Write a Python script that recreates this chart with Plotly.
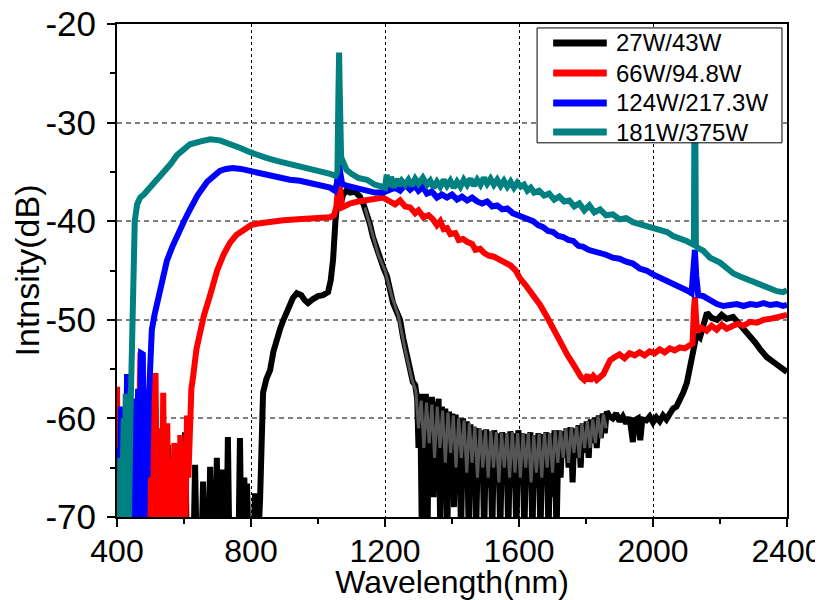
import plotly.graph_objects as go

# ---------------- data ----------------
series_names = ["27W/43W", "66W/94.8W", "124W/217.3W", "181W/375W"]
series_colors = ["#000000", "#ff0000", "#0000ff", "#008080"]

x_ticks = [400, 800, 1200, 1600, 2000, 2400]
x_tick_labels = ["400", "800", "1200", "1600", "2000", "2400"]
x_minor = [600, 1000, 1400, 1800, 2200]
y_ticks = [-70, -60, -50, -40, -30, -20]
y_tick_labels = ["-70", "-60", "-50", "-40", "-30", "-20"]
y_minor = [-65, -55, -45, -35, -25]

# 27W/43W (black)
black_x = [400, 505, 512, 519, 524, 548, 552, 556, 598, 603, 608, 629, 633, 637,
           653, 657, 661, 674, 678, 682, 694, 698, 702, 709, 713, 717, 727, 731, 735,
           763, 767, 771, 776, 780, 784, 788, 792, 808, 812, 816, 822, 827, 832, 836,
           846, 857, 867, 878, 888, 897, 910, 925, 937, 950, 960, 970, 985, 1000,
           1015, 1030, 1038, 1045, 1052, 1058, 1063, 1068, 1075, 1085, 1096, 1110,
           1125, 1136, 1146, 1155, 1164, 1175, 1185, 1196, 1206, 1215, 1224, 1235,
           1245, 1254, 1265, 1275, 1283,
           1290, 1296, 1300, 1305, 1310, 1314, 1318, 1322, 1327, 1331, 1336, 1340,
           1345, 1350, 1355, 1360, 1365, 1370, 1375, 1380, 1386, 1391, 1396, 1401,
           1406, 1411, 1416, 1421, 1427, 1433, 1438, 1444, 1450, 1455, 1460, 1466,
           1472, 1478, 1484, 1490, 1496, 1502, 1508, 1514, 1520, 1526, 1532, 1538,
           1544, 1550, 1556, 1562, 1568, 1574, 1580, 1586, 1592, 1598, 1604, 1610,
           1616, 1622, 1628, 1634, 1640, 1646, 1652, 1658, 1664, 1670, 1676, 1682,
           1688, 1694, 1700, 1706, 1712, 1718, 1724, 1730, 1736, 1742, 1748, 1754,
           1760, 1766, 1772, 1778, 1784, 1790, 1796, 1802, 1808, 1814, 1820, 1826,
           1832, 1838, 1844, 1850, 1856, 1862,
           1870, 1880, 1890, 1900, 1910, 1920, 1930, 1940, 1945, 1955, 1962, 1968,
           1980, 1990, 2000, 2010, 2020, 2030, 2040, 2050, 2060, 2070, 2080, 2090,
           2101, 2110, 2120, 2130, 2140, 2150, 2161, 2175, 2191, 2205, 2220, 2239,
           2255, 2270, 2290, 2305, 2320, 2340, 2360, 2375, 2388, 2400]
black_y = [-72, -72, -56.3, -72, -72, -72, -62.7, -72, -72, -61.4, -72, -72, -64.7, -72,
           -72, -66.4, -72, -72, -64.9, -72, -72, -64.0, -72, -72, -65.2, -72, -72, -61.9, -72,
           -72, -62.0, -72, -72, -66.0, -72, -66.6, -72, -72, -67.6, -72, -72, -68.3, -62.0, -57.4,
           -56.0, -55.1, -53.2, -51.7, -50.8, -50.0, -48.9, -47.8, -47.3, -47.5, -48.0, -48.3, -47.9, -47.6,
           -47.5, -47.2, -46.0, -43.9, -40.0, -37.5, -36.3, -38.2, -37.3, -36.9, -37.1, -37.0,
           -37.5, -38.3, -39.2, -40.3, -41.6, -42.8, -43.9, -44.8, -45.6, -46.9, -48.3, -49.2,
           -50.0, -51.8, -53.5, -55.2, -56.3,
           -56.6, -58.0, -63.0, -57.5, -72, -58.0, -66.0, -57.5, -72, -58.5, -64.0, -57.8,
           -68.0, -58.3, -63.0, -58.0, -72, -58.8, -65.0, -59.0, -72, -59.3, -64.0, -59.5,
           -69.0, -59.6, -66.0, -60.0, -72, -60.0, -65.0, -60.3, -72, -60.6, -66.0, -60.9,
           -72, -61.0, -64.0, -61.2, -72, -61.1, -67.0, -61.3, -72, -61.2, -66.0, -61.5,
           -72, -61.4, -65.0, -61.6, -72, -61.3, -67.0, -61.5, -72, -61.2, -65.0, -61.5,
           -72, -61.6, -66.0, -61.4, -72, -61.7, -67.0, -61.5, -72, -61.6, -66.0, -61.4,
           -72, -61.5, -68.0, -61.2, -72, -61.2, -66.0, -61.3, -64.0, -61.0, -65.0, -60.9,
           -66.5, -61.0, -64.0, -60.7, -65.0, -60.5, -63.5, -60.3, -64.0, -60.1, -62.5, -59.9,
           -63.0, -59.7, -62.0, -59.5, -61.5, -59.3,
           -59.8, -60.0, -59.5, -60.3, -59.8, -60.5, -59.9, -62.4, -60.2, -60.0, -62.2, -60.1,
           -60.2, -59.8, -60.4, -59.9, -60.3, -59.7, -60.1, -59.5, -59.0, -58.8, -58.2, -57.4,
           -56.4, -54.8, -52.8, -51.5, -51.8, -50.4, -49.3, -49.8, -50.0, -49.5, -49.9, -49.7,
           -50.3, -51.0, -51.7, -52.3, -53.0, -53.8, -54.3, -54.7, -55.1, -55.3]

# grey core of the dense noisy part of the black spectrum
black_band_x = [1140, 1160, 1180, 1200, 1220, 1240, 1260, 1280, 1292, 1300, 1308, 1316,
                1324, 1332, 1340, 1348, 1356, 1364, 1372, 1380, 1388, 1396, 1404, 1412,
                1420, 1428, 1436, 1444, 1452, 1460, 1468, 1476, 1484, 1492, 1500, 1508,
                1516, 1524, 1532, 1540, 1548, 1556, 1564, 1572, 1580, 1588, 1596, 1604,
                1612, 1620, 1628, 1636, 1644, 1652, 1660, 1668, 1676, 1684, 1692, 1700,
                1708, 1716, 1724, 1732, 1740, 1748, 1756, 1764, 1772, 1780, 1788, 1796,
                1804, 1812, 1820, 1828, 1836, 1844, 1852, 1860]
black_band_y = [-38.6, -40.9, -43.4, -45.0, -47.6, -49.6, -53.0, -56.0, -57.2, -61.0, -58.2, -63.0,
                -58.4, -62.5, -58.6, -64.0, -58.8, -63.0, -59.2, -64.5, -59.4, -63.5, -59.7, -65.0,
                -60.0, -64.0, -60.2, -65.5, -60.5, -64.5, -60.8, -66.0, -61.0, -65.0, -61.2, -66.0,
                -61.3, -65.0, -61.4, -66.5, -61.5, -65.0, -61.5, -66.0, -61.4, -65.5, -61.5, -66.0,
                -61.6, -65.0, -61.5, -66.5, -61.7, -65.5, -61.6, -66.0, -61.5, -65.0, -61.5, -65.5,
                -61.3, -64.5, -61.2, -64.0, -61.0, -64.5, -60.9, -63.5, -60.8, -64.0, -60.5, -63.0,
                -60.3, -63.0, -60.1, -62.5, -59.8, -62.0, -59.6, -61.0]

# 66W/94.8W (red)
red_x = [400, 404, 412, 416, 425, 429, 440, 444, 455, 459, 470, 475, 479, 490, 494,
         505, 509, 515, 519, 530, 534, 538, 542, 550, 554, 562, 566, 571, 575, 581,
         585, 589, 593, 600, 604, 609, 613, 617, 622, 627, 637, 648, 660, 678, 699,
         718, 737, 756, 776, 800, 827, 860, 897, 940, 976, 1010, 1036, 1048, 1055,
         1060, 1063, 1067, 1072, 1085, 1096, 1120, 1150, 1170, 1194,
         1215, 1230, 1245, 1260, 1275, 1290, 1300, 1315, 1330, 1343, 1355, 1365,
         1375, 1385, 1395, 1410, 1420, 1433, 1445, 1460, 1470, 1484, 1495, 1510,
         1525, 1543, 1560, 1575, 1590, 1603, 1620, 1640, 1663, 1685, 1700, 1722,
         1745, 1760, 1773, 1785, 1795, 1805, 1812, 1822, 1832, 1842, 1852, 1862,
         1872, 1885, 1900, 1915, 1930, 1945, 1960, 1975, 1990, 2005, 2020, 2035,
         2050, 2065, 2080, 2095, 2110, 2118, 2122, 2125, 2128, 2132, 2145, 2160,
         2175, 2190, 2205, 2220, 2239, 2255, 2270, 2290, 2310, 2330, 2350, 2370,
         2388, 2400]
red_y = [-56.8, -72, -63.0, -72, -60.0, -72, -58.0, -72, -60.0, -72, -53.5, -53.4, -72, -57.0, -72,
         -56.0, -72, -55.4, -72, -61.0, -72, -57.4, -72, -60.5, -72, -64.0, -72, -62.5, -72, -64.5,
         -72, -61.7, -72, -62.5, -72, -59.7, -66.0, -60.0, -57.0, -55.8, -53.0, -51.3, -49.5, -47.5, -45.0,
         -43.4, -42.2, -41.4, -40.9, -40.4, -40.2, -40.0, -39.9, -39.8, -39.7, -39.6, -39.6, -39.4, -38.5,
         -36.5, -36.1, -37.0, -38.6, -38.4, -38.2, -38.0, -37.8, -37.7, -37.6,
         -38.0, -38.3, -37.9, -38.5, -38.6, -39.2, -38.9, -39.6, -39.4, -39.8, -40.4, -40.0,
         -40.8, -40.7, -41.3, -41.2, -41.9, -41.8, -42.1, -42.3, -42.9, -42.8, -43.2, -43.5,
         -43.6, -43.9, -44.2, -44.5, -45.0, -45.8, -46.5, -47.4, -48.5, -49.8, -50.8, -52.0,
         -53.6, -54.4, -55.3, -55.8, -56.1, -55.6, -56.2, -55.7, -56.1, -55.8, -55.5, -54.8,
         -54.1, -53.8, -53.5, -53.9, -53.4, -53.6, -53.3, -53.6, -53.2, -53.4, -53.0, -53.3,
         -52.9, -53.1, -52.8, -52.9, -52.6, -52.4, -49.0, -47.7, -49.5, -51.2, -50.8, -51.1,
         -50.6, -51.0, -50.5, -50.9, -50.6, -50.4, -50.6, -50.2, -50.3, -50.0, -49.9, -49.8,
         -49.6, -49.5]

# 124W/217.3W (blue)
blue_x = [400, 404, 408, 412, 416, 420, 424, 430, 434, 440, 444, 452, 456, 463, 467,
          472, 477, 481, 487, 491, 495, 499, 504, 512, 519, 530, 549, 565, 579, 600,
          618, 640, 669, 690, 707, 725, 746, 770, 797, 827, 857, 886, 916, 946, 976,
          1006, 1036, 1050, 1056, 1060, 1063, 1067, 1072, 1085, 1096, 1120, 1146,
          1170, 1194, 1215, 1230, 1245, 1260, 1275, 1290, 1300, 1313, 1325, 1340,
          1355, 1370, 1385, 1400, 1415, 1430, 1445, 1460, 1475, 1490, 1505, 1520,
          1535, 1550, 1565, 1582, 1597, 1612, 1627, 1642, 1657, 1672, 1687, 1702,
          1717, 1732, 1747, 1762, 1777, 1792, 1807, 1822, 1842, 1860, 1880, 1900,
          1920, 1940, 1960, 1980, 2000, 2020, 2042, 2060, 2080, 2100, 2115, 2121,
          2125, 2129, 2135, 2150, 2170, 2191, 2210, 2230, 2250, 2270, 2290, 2310,
          2330, 2350, 2370, 2388, 2400]
blue_y = [-72, -63.0, -72, -58.8, -72, -62.0, -72, -55.5, -72, -60.0, -72, -58.0, -72, -57.0, -72,
          -53.4, -53.5, -72, -60.0, -66.0, -58.0, -54.0, -51.0, -49.5, -48.5, -46.3, -44.0, -42.6, -41.4, -40.0,
          -38.8, -37.4, -36.0, -35.3, -34.9, -34.7, -34.6, -34.7, -34.9, -35.2, -35.4, -35.6, -35.8, -35.9, -36.1,
          -36.3, -36.6, -36.9, -36.2, -35.0, -34.3, -35.2, -36.2, -36.4, -36.5, -36.8, -36.9,
          -37.1, -37.1, -36.9, -36.6, -36.9, -36.3, -36.8, -36.4, -36.9, -36.5, -37.2, -37.0,
          -37.6, -37.3, -37.6, -37.3, -37.8, -37.5, -37.9, -37.6, -38.0, -38.2, -38.0, -38.5,
          -38.4, -38.8, -38.7, -39.2, -39.4, -39.6, -39.8, -40.0, -40.4, -40.6, -41.0, -41.1,
          -41.5, -41.6, -41.9, -42.0, -42.5, -42.6, -42.9, -43.0, -43.2, -43.4, -43.7, -43.8,
          -44.1, -44.3, -44.8, -45.0, -45.4, -45.7, -46.0, -46.4, -46.7, -47.0, -47.3, -45.0,
          -42.9, -45.5, -47.5, -47.6, -48.0, -48.4, -48.6, -48.5, -48.4, -48.6, -48.4, -48.5,
          -48.3, -48.5, -48.4, -48.6, -48.5]

# 181W/375W (teal)
teal_x = [400, 403, 406, 410, 414, 420, 423, 426, 430, 433, 436, 440, 444, 448, 453,
          460, 469, 480, 498, 520, 537, 560, 579, 600, 618, 650, 678, 707, 746, 770,
          797, 820, 848, 880, 907, 940, 976, 1010, 1036, 1052, 1058, 1061, 1063, 1065,
          1069, 1075, 1085, 1100, 1120, 1146, 1170, 1191,
          1200, 1205, 1212, 1218, 1226, 1234, 1242, 1250, 1260, 1270, 1280, 1290,
          1300, 1313, 1325, 1335, 1345, 1355, 1365, 1375, 1385, 1395, 1405, 1415,
          1425, 1435, 1445, 1455, 1465, 1475, 1485, 1495, 1505, 1515, 1525, 1535,
          1545, 1555, 1565, 1575, 1585, 1595, 1605, 1615, 1625, 1635, 1645, 1660,
          1675, 1690, 1705, 1720, 1735, 1750, 1765, 1780, 1795, 1810, 1825, 1842,
          1860, 1880, 1900, 1920, 1940, 1960, 1980, 2000, 2020, 2042, 2060, 2080,
          2100, 2116, 2122, 2124, 2125, 2126, 2128, 2134, 2150, 2170, 2200, 2220,
          2240, 2260, 2290, 2310, 2330, 2350, 2370, 2388, 2400]
teal_y = [-72, -65.5, -72, -64.0, -72, -60.0, -72, -57.5, -72, -58.0, -70.0, -60.0, -52.0, -45.0, -40.0,
          -38.3, -37.6, -37.3, -36.6, -35.8, -35.2, -34.2, -33.3, -32.6, -32.2, -31.9, -31.7, -31.8, -32.2, -32.6,
          -33.0, -33.3, -33.6, -33.9, -34.1, -34.4, -34.6, -34.9, -35.2, -35.4, -35.0, -27.0, -22.9, -27.0,
          -33.5, -34.0, -34.8, -35.2, -35.6, -35.8, -36.3, -36.5,
          -36.6, -35.3, -36.5, -35.5, -36.6, -35.7, -36.4, -35.9, -36.3, -35.8, -36.4, -35.7,
          -36.2, -35.6, -36.3, -35.9, -36.6, -36.0, -36.5, -35.8, -36.4, -35.9, -36.6, -36.0,
          -36.5, -35.8, -36.3, -35.7, -36.4, -35.8, -36.3, -35.6, -36.2, -35.7, -36.3, -35.8,
          -36.4, -35.9, -36.5, -36.0, -36.6, -36.1, -36.5, -36.3, -36.9, -36.6, -37.1, -36.9,
          -37.4, -37.2, -37.8, -37.5, -38.0, -37.9, -38.5, -38.2, -38.9, -38.4, -39.1, -38.8,
          -39.4, -39.3, -39.8, -39.7, -40.1, -40.3, -40.5, -40.7, -40.9, -41.1, -41.5, -41.7,
          -42.0, -42.3, -42.4, -27.0, -26.2, -27.0, -42.5, -42.7, -43.0, -43.7, -44.2, -44.8,
          -45.3, -45.6, -46.0, -46.4, -46.6, -46.9, -47.1, -47.2, -47.0]

# ---------------- figure ----------------
FONT = "Liberation Sans, Arial, sans-serif"
LW = 6

fig = go.Figure()
fig.add_trace(go.Scatter(x=black_x, y=black_y, mode="lines", name=series_names[0],
                         line=dict(color=series_colors[0], width=LW)))
fig.add_trace(go.Scatter(x=black_band_x, y=black_band_y, mode="lines", name=series_names[0],
                         hoverinfo="skip", line=dict(color="#555555", width=3)))
fig.add_trace(go.Scatter(x=red_x, y=red_y, mode="lines", name=series_names[1],
                         line=dict(color=series_colors[1], width=LW)))
fig.add_trace(go.Scatter(x=blue_x, y=blue_y, mode="lines", name=series_names[2],
                         line=dict(color=series_colors[2], width=LW)))
fig.add_trace(go.Scatter(x=teal_x, y=teal_y, mode="lines", name=series_names[3],
                         line=dict(color=series_colors[3], width=LW)))

axis_common = dict(showline=True, linecolor="black", linewidth=2, mirror=True,
                   ticks="outside", ticklen=8, tickwidth=2, tickcolor="black",
                   zeroline=False, automargin=False, ticklabeloverflow="allow")

fig.update_xaxes(range=[400, 2400], tickmode="array", tickvals=x_ticks, ticktext=x_tick_labels,
                 showgrid=True, gridcolor="black", gridwidth=1, griddash="3px,3px",
                 minor=dict(tickmode="array", tickvals=x_minor, ticks="outside", ticklen=5,
                            tickwidth=2, tickcolor="black", showgrid=False),
                 ticklabelstandoff=-3,
                 tickfont=dict(family=FONT, size=32, color="black"),
                 title=dict(text="Wavelength(nm)", font=dict(family=FONT, size=32, color="black"),
                            standoff=0),
                 **axis_common)
fig.update_yaxes(range=[-70, -20], tickmode="array", tickvals=y_ticks, ticktext=y_tick_labels,
                 showgrid=True, gridcolor="#7f7f7f", gridwidth=1.5, griddash="5px,4px",
                 minor=dict(tickmode="array", tickvals=y_minor, ticks="outside", ticklen=5,
                            tickwidth=2, tickcolor="black", showgrid=False),
                 ticklabelstandoff=4,
                 tickfont=dict(family=FONT, size=35, color="black"),
                 title=dict(text="Intnsity(dB)", font=dict(family=FONT, size=34, color="black"),
                            standoff=1),
                 **axis_common)

# legend box drawn in paper coordinates (frame, line samples, labels)
leg_left, leg_right, leg_top, leg_bottom = 0.627, 0.9925, 0.992, 0.759
leg_rows = [0.9615, 0.9006, 0.8398, 0.7809]
shapes = [dict(type="rect", xref="paper", yref="paper", x0=leg_left, x1=leg_right,
               y0=leg_bottom, y1=leg_top, fillcolor="white",
               line=dict(color="black", width=1), layer="above")]
annotations = []
for name, color, row in zip(series_names, series_colors, leg_rows):
    shapes.append(dict(type="line", xref="paper", yref="paper", x0=0.651, x1=0.731,
                       y0=row, y1=row, line=dict(color=color, width=7), layer="above"))
    annotations.append(dict(text=name, xref="paper", yref="paper", x=0.742, y=row,
                            xanchor="left", yanchor="middle", showarrow=False,
                            font=dict(family=FONT, size=24, color="black")))

# the page body adds an 8px offset, so the figure is drawn 8px smaller
fig.update_layout(
    width=815, height=592,
    margin=dict(l=109, r=36, t=16, b=83),
    plot_bgcolor="white", paper_bgcolor="white",
    showlegend=False,
    shapes=shapes, annotations=annotations,
)

fig.write_html("out.html")
